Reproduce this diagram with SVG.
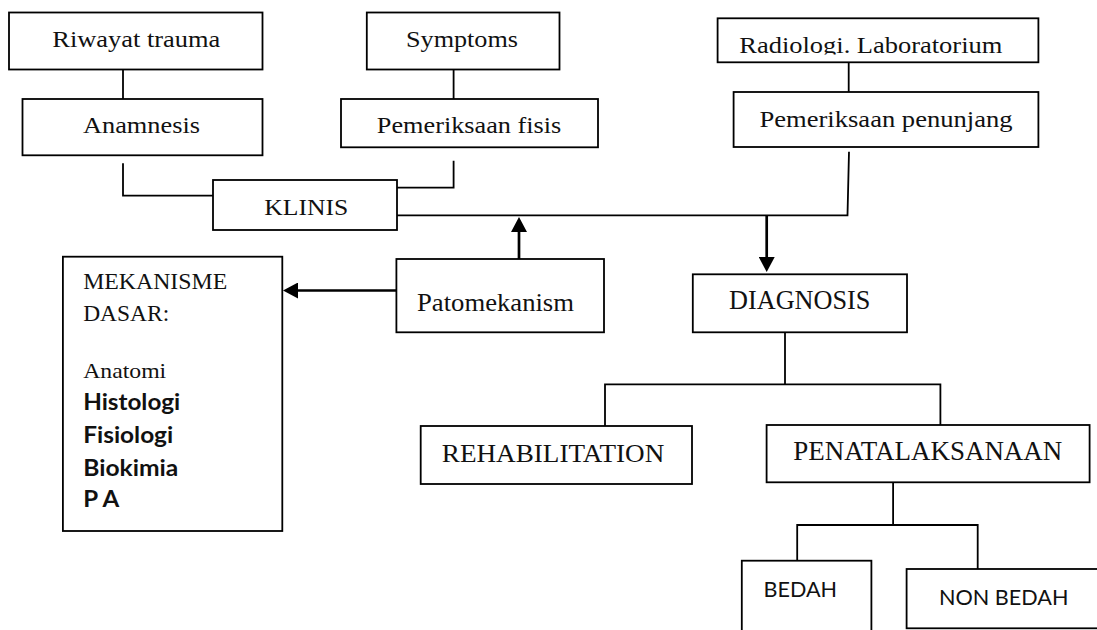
<svg xmlns="http://www.w3.org/2000/svg" width="1097" height="630" viewBox="0 0 1097 630">
<style>
.box{fill:#fff;stroke:#000;stroke-width:1.8}
.t{font-family:"Liberation Serif","Times New Roman",serif;fill:#111}
.s{font-family:Lato,"Liberation Sans",sans-serif;fill:#111}
.b{font-weight:bold}
.c{fill:none;stroke:#000;stroke-width:1.8}
.a{fill:none;stroke:#000;stroke-width:2.7}
</style>
<defs>
<marker id="ah" markerUnits="userSpaceOnUse" markerWidth="15" markerHeight="16" viewBox="0 0 15 16" refX="0" refY="8" orient="auto">
<path d="M0,0 L15,8 L0,16 z" fill="#000"/>
</marker>
<clipPath id="radclip"><rect x="717" y="18" width="322" height="36.5"/></clipPath>
</defs>
<rect width="1097" height="630" fill="#fff"/>
<g id="connectors">
<path class="c" d="M123,69.3 V99"/>
<path class="c" d="M453.6,69.3 V99"/>
<path class="c" d="M848.7,62.3 V92"/>
<path class="c" d="M123,163.3 V195.7 H213"/>
<path class="c" d="M453.6,160.7 V187.7 H397"/>
<path class="c" d="M397,215.3 H847.5 L849,151.7"/>
<path class="c" d="M785,332.3 V384.3"/>
<path class="c" d="M605,426 V384.3 H940.4 V428.3"/>
<path class="c" d="M893.1,482.3 V525"/>
<path class="c" d="M797.2,560.7 V525 H977.7 V569"/>
<path class="a" d="M519,259 V232" marker-end="url(#ah)"/>
<path class="a" d="M766.7,215.3 V257" marker-end="url(#ah)"/>
<path class="a" d="M396.4,290.5 H298" marker-end="url(#ah)"/>
</g>
<g id="riwayat">
<rect class="box" x="9" y="12.5" width="253.5" height="57"/>
<text class="t" x="52.3" y="46.7" font-size="24" textLength="168" lengthAdjust="spacingAndGlyphs">Riwayat trauma</text>
</g>
<g id="symptoms">
<rect class="box" x="366.8" y="12.5" width="192.7" height="57"/>
<text class="t" x="406" y="46.7" font-size="24" textLength="112" lengthAdjust="spacingAndGlyphs">Symptoms</text>
</g>
<g id="anamnesis">
<rect class="box" x="22.5" y="99" width="240" height="56.3"/>
<text class="t" x="83" y="133.3" font-size="23" textLength="117" lengthAdjust="spacingAndGlyphs">Anamnesis</text>
</g>
<g id="fisis">
<rect class="box" x="341" y="99" width="257" height="48.3"/>
<text class="t" x="376.8" y="133.3" font-size="23" textLength="184.5" lengthAdjust="spacingAndGlyphs">Pemeriksaan fisis</text>
</g>
<g id="radiologi">
<rect class="box" x="717.6" y="18.3" width="320.8" height="44"/>
<text class="t" x="739.3" y="52.7" font-size="24" textLength="263" lengthAdjust="spacingAndGlyphs" clip-path="url(#radclip)">Radiologi. Laboratorium</text>
</g>
<g id="penunjang">
<rect class="box" x="733.6" y="92" width="304.8" height="55"/>
<text class="t" x="759.5" y="126.7" font-size="23" textLength="253" lengthAdjust="spacingAndGlyphs">Pemeriksaan penunjang</text>
</g>
<g id="klinis">
<rect class="box" x="213" y="180" width="184" height="50"/>
<text class="t" x="264.3" y="215" font-size="23" textLength="84" lengthAdjust="spacingAndGlyphs">KLINIS</text>
</g>
<g id="mekanisme">
<rect class="box" x="62.9" y="256.7" width="219.4" height="274.3"/>
<text class="t" x="83.2" y="289" font-size="23" textLength="144" lengthAdjust="spacingAndGlyphs">MEKANISME</text>
<text class="t" x="83.2" y="320.7" font-size="23" textLength="86" lengthAdjust="spacingAndGlyphs">DASAR:</text>
<text class="t" x="83.2" y="378.3" font-size="22" textLength="83" lengthAdjust="spacingAndGlyphs">Anatomi</text>
<text class="s b" x="83.2" y="410" font-size="22" textLength="97" lengthAdjust="spacingAndGlyphs">Histologi</text>
<text class="s b" x="83.2" y="442.7" font-size="22" textLength="90" lengthAdjust="spacingAndGlyphs">Fisiologi</text>
<text class="s b" x="83.2" y="476" font-size="22" textLength="95" lengthAdjust="spacingAndGlyphs">Biokimia</text>
<text class="s b" x="83.2" y="507.3" font-size="22" textLength="36" lengthAdjust="spacingAndGlyphs">P A</text>
</g>
<g id="patomekanism">
<rect class="box" x="396.4" y="259" width="207.6" height="73.3"/>
<text class="t" x="417" y="310.7" font-size="25" textLength="157" lengthAdjust="spacingAndGlyphs">Patomekanism</text>
</g>
<g id="diagnosis">
<rect class="box" x="692.8" y="274.3" width="214.2" height="58"/>
<text class="t" x="729" y="309.3" font-size="27" textLength="141.4" lengthAdjust="spacingAndGlyphs">DIAGNOSIS</text>
</g>
<g id="rehabilitation">
<rect class="box" x="420.7" y="426" width="271.3" height="58"/>
<text class="t" x="441.8" y="461.7" font-size="26" textLength="222.5" lengthAdjust="spacingAndGlyphs">REHABILITATION</text>
</g>
<g id="penatalaksanaan">
<rect class="box" x="766.6" y="425" width="323" height="57.3"/>
<text class="t" x="793.3" y="460" font-size="27" textLength="269" lengthAdjust="spacingAndGlyphs">PENATALAKSANAAN</text>
</g>
<g id="bedah">
<rect class="box" x="741.8" y="560.7" width="129.6" height="90"/>
<text class="s" x="763.5" y="597.3" font-size="22" textLength="73.5" lengthAdjust="spacingAndGlyphs">BEDAH</text>
</g>
<g id="nonbedah">
<rect class="box" x="906.6" y="569" width="200" height="59.3"/>
<text class="s" x="939" y="605.3" font-size="22" textLength="129.5" lengthAdjust="spacingAndGlyphs">NON BEDAH</text>
</g>
</svg>
